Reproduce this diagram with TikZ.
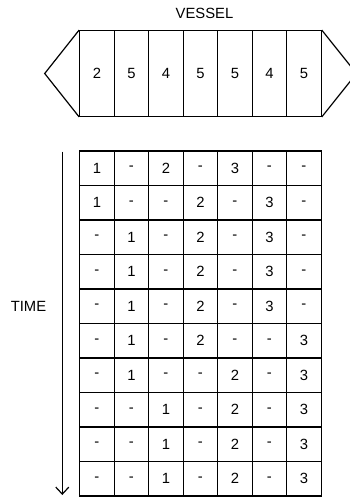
\documentclass[tikz,border=0pt]{standalone}
\usepackage{fontspec}
\setmainfont{Liberation Sans}
\usetikzlibrary{arrows.meta}
\begin{document}
\begin{tikzpicture}[x=1pt,y=-1pt,
  every node/.style={font=\fontsize{14.8}{17}\selectfont, text=black, inner sep=0pt},
  cell/.style={draw=black, line width=1.2pt, minimum width=34.5pt, minimum height=34.5pt},
  vcell/.style={draw=black, line width=1.2pt, minimum width=34.5pt, minimum height=85.6pt},
  hull/.style={draw=black, line width=1.2pt, line join=miter},
  timearrow/.style={draw=black, line width=1.2pt, -{Straight Barb[length=7pt,width=13pt,line width=1.2pt]}},
  label/.style={}]
\useasboundingbox (0,0) rectangle (349,498);
% vessel
\node[label] (vessel) at (204.5,13.5) {VESSEL};
\foreach \v [count=\c] in {2,5,4,5,5,4,5}
  \node[vcell] (v-\c) at ({79.7+34.5*(\c-0.5)},73.5) {\v};
\coordinate (lefttip) at (44.7,73.5);
\coordinate (righttip) at (356.5,73.5);
\draw[hull] (v-1.north west) -- (lefttip) -- (v-1.south west);
\draw[hull] (v-7.north east) -- (righttip) -- (v-7.south east);
% table
\foreach \row [count=\r] in {{1,-,2,-,3,-,-},{1,-,-,2,-,3,-},{-,1,-,2,-,3,-},{-,1,-,2,-,3,-},{-,1,-,2,-,3,-},{-,1,-,2,-,-,3},{-,1,-,-,2,-,3},{-,-,1,-,2,-,3},{-,-,1,-,2,-,3},{-,-,1,-,2,-,3}}
  \foreach \v [count=\c] in \row
    \node[cell] (t-\r-\c) at ({79.7+34.5*(\c-0.5)},{151+34.5*(\r-0.5)}) {\v};
% time axis
\coordinate (tstart) at (62.3,151.5);
\coordinate (tend) at (62.3,495);
\draw[timearrow] (tstart) -- (tend);
\node[label] (time) at (28.5,306) {TIME};
\end{tikzpicture}
\end{document}
